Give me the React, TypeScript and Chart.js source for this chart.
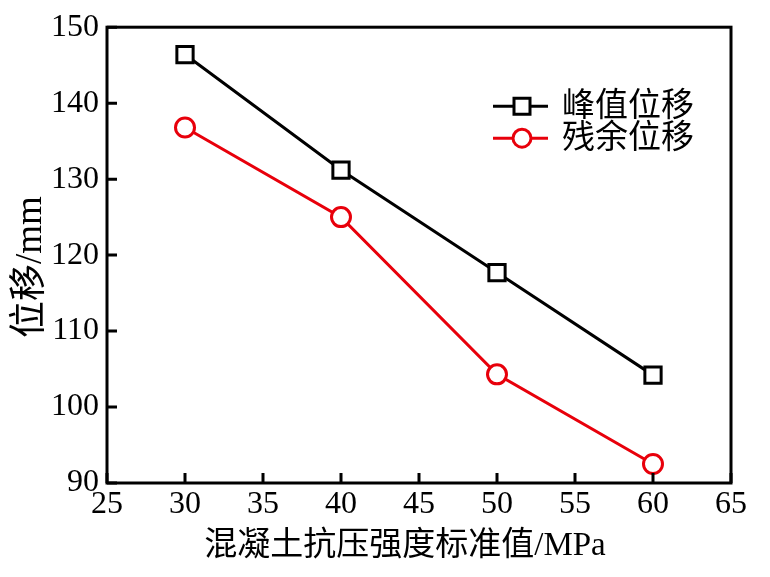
import React, { useEffect, useRef } from "react";
import { Chart, registerables } from "chart.js";

Chart.register(...registerables);

const strengths = [30, 40, 50, 60];
const peakDisp = [146.4, 131.2, 117.7, 104.2];
const residualDisp = [136.8, 125.0, 104.3, 92.5];
const seriesNames = ["峰值位移", "残余位移"];
const seriesColors = ["#000000", "#e8000b"];
const xTitle = "混凝土抗压强度标准值/MPa";
const yTitle = "位移/mm";

const FONT = "'Liberation Serif', 'Noto Sans CJK SC', serif";

const framePlugin = {
  id: "frame",
  afterDraw(chart: any) {
    const { ctx, chartArea: a, scales } = chart;
    ctx.save();
    ctx.strokeStyle = "#000";
    ctx.lineWidth = 3;
    ctx.lineCap = "butt";
    ctx.strokeRect(a.left, a.top, a.right - a.left, a.bottom - a.top);
    const tl = 10;
    ctx.beginPath();
    scales.x.ticks.forEach((t: any) => {
      const px = scales.x.getPixelForValue(t.value);
      ctx.moveTo(px, a.bottom);
      ctx.lineTo(px, a.bottom - tl);
    });
    scales.y.ticks.forEach((t: any) => {
      const py = scales.y.getPixelForValue(t.value);
      ctx.moveTo(a.left, py);
      ctx.lineTo(a.left + tl, py);
    });
    ctx.stroke();

    // axis titles
    ctx.fillStyle = "#000";
    ctx.font = `33px ${FONT}`;
    ctx.textAlign = "center";
    ctx.textBaseline = "middle";
    ctx.fillText(xTitle, (a.left + a.right) / 2 - 14, a.bottom + 63);
    ctx.save();
    ctx.font = `37px ${FONT}`;
    ctx.translate(a.left - 76, (a.top + a.bottom) / 2 + 12);
    ctx.rotate(-Math.PI / 2);
    ctx.fillText(yTitle, 0, 0);
    ctx.restore();

    // legend
    const lx0 = a.left + 386;
    const lx1 = a.left + 441;
    const mx = a.left + 415;
    const tx = a.left + 455;
    const rows = [a.top + 79, a.top + 111];
    rows.forEach((ry, i) => {
      ctx.strokeStyle = seriesColors[i];
      ctx.lineWidth = 3;
      ctx.beginPath();
      ctx.moveTo(lx0, ry);
      ctx.lineTo(lx1, ry);
      ctx.stroke();
      ctx.fillStyle = "#fff";
      ctx.beginPath();
      if (i === 0) {
        ctx.rect(mx - 8, ry - 8, 16, 16);
      } else {
        ctx.arc(mx, ry, 9, 0, Math.PI * 2);
      }
      ctx.fill();
      ctx.stroke();
      ctx.fillStyle = "#000";
      ctx.font = `33px ${FONT}`;
      ctx.textAlign = "left";
      ctx.textBaseline = "middle";
      ctx.fillText(seriesNames[i], tx, ry + 1);
    });
    ctx.restore();
  },
};

export default function App() {
  const ref = useRef<HTMLCanvasElement>(null);
  useEffect(() => {
    const canvas = ref.current!;
    const chart = new Chart(canvas, {
      type: "line",
      data: {
        datasets: [
          {
            label: seriesNames[0],
            data: strengths.map((x, i) => ({ x, y: peakDisp[i] })),
            borderColor: seriesColors[0],
            backgroundColor: "#fff",
            borderWidth: 3,
            pointStyle: "rect",
            pointRadius: 11.5,
            pointBorderWidth: 3,
            pointBackgroundColor: "#fff",
            pointBorderColor: seriesColors[0],
          },
          {
            label: seriesNames[1],
            data: strengths.map((x, i) => ({ x, y: residualDisp[i] })),
            borderColor: seriesColors[1],
            backgroundColor: "#fff",
            borderWidth: 3,
            pointStyle: "circle",
            pointRadius: 9.5,
            pointBorderWidth: 3,
            pointBackgroundColor: "#fff",
            pointBorderColor: seriesColors[1],
          },
        ],
      },
      options: {
        responsive: false,
        animation: false,
        devicePixelRatio: 1,
        layout: { padding: { top: 23, right: 39, left: 0, bottom: 0 } },
        plugins: { legend: { display: false }, tooltip: { enabled: false } },
        scales: {
          x: {
            type: "linear",
            min: 25,
            max: 65,
            grid: { display: false, drawTicks: false },
            border: { display: false },
            ticks: {
              stepSize: 5,
              color: "#000",
              padding: 2,
              maxRotation: 0,
              font: { family: FONT, size: 32, lineHeight: 1.2 },
            },
            afterFit: (s: any) => {
              s.height = 94;
            },
          },
          y: {
            min: 90,
            max: 150,
            grid: { display: false, drawTicks: false },
            border: { display: false },
            ticks: {
              stepSize: 10,
              color: "#000",
              padding: 8,
              font: { family: FONT, size: 32 },
            },
            afterFit: (s: any) => {
              s.width = 107;
            },
          },
        },
      },
      plugins: [framePlugin],
    });
    return () => chart.destroy();
  }, []);
  return (
    <div style={{ position: "absolute", left: 0, top: 0, width: 770, height: 577, background: "#fff" }}>
      <canvas ref={ref} width={770} height={577} style={{ width: 770, height: 577, display: "block" }} />
    </div>
  );
}
